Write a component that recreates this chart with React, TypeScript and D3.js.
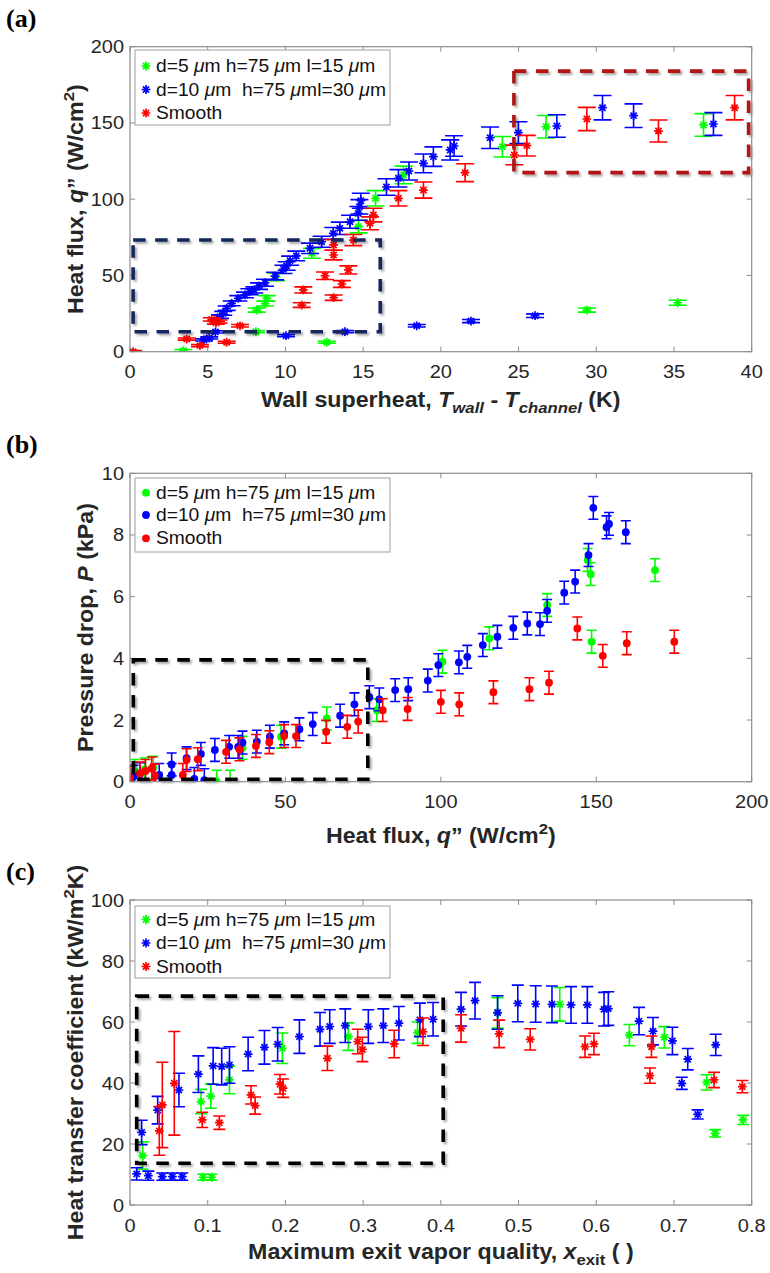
import React from 'react';
import * as d3 from 'd3';

const SANS = '"Liberation Sans", Arial, Helvetica, sans-serif';
const SERIF = '"Liberation Serif", "Times New Roman", serif';
const GREEN = '#00ff00';
const BLUE = '#0000ff';
const RED = '#ff0000';

// ---------- Panel (a): heat flux vs wall superheat ----------
const aXTicks = [0, 5, 10, 15, 20, 25, 30, 35, 40];
const aYTicks = [0, 50, 100, 150, 200];
const aGreenX = [3.43, 8.1, 8.15, 8.7, 8.8, 9.4, 11.7, 12.66, 14.7, 15.8, 17.6, 23.96, 26.77, 29.4, 35.24, 36.9];
const aGreenY = [0.7, 13.1, 27.3, 31.5, 35, 49, 64.5, 6.2, 82, 100.6, 115.9, 134.4, 147.5, 27.3, 32.1, 148.7];
const aBlueX = [4.76, 5.1, 5.5, 5.79, 6.0, 6.22, 6.54, 6.97, 7.4, 7.68, 8.0, 8.3, 8.69, 9.33, 9.87, 10.04, 10.08, 10.3, 10.7, 11.58, 12.33, 13.08, 13.5, 13.83, 14.16, 14.69, 14.76, 14.85, 16.5, 17.27, 17.95, 18.45, 18.88, 19.52, 20.6, 20.85, 21.94, 23.17, 24.99, 26.06, 27.46, 30.4, 32.4, 37.54];
const aBlueY = [7.7, 9, 13, 23, 25.2, 28.5, 31.7, 35, 37.2, 39.3, 40.5, 43, 45.2, 49.6, 54, 10.5, 56.2, 59.7, 62.8, 67.8, 72.1, 77.6, 80.9, 13.1, 85.2, 90.7, 95, 99, 108, 113.7, 118.5, 17, 123.5, 127.9, 132.3, 134.9, 20.1, 140.3, 143.6, 23.6, 148, 160, 154.8, 149.3];
const aRedX = [0.2, 3.65, 4.5, 5.26, 5.53, 5.7, 6.22, 7.08, 11.05, 11.15, 12.55, 13.1, 13.1, 13.1, 13.63, 14.05, 14.37, 15.44, 15.66, 17.27, 18.88, 21.56, 24.73, 25.53, 29.39, 34, 38.9];
const aRedY = [0, 8.3, 4, 21.2, 19, 19.8, 6.2, 17, 30.6, 40.5, 49.8, 35.4, 63.4, 70, 44.4, 53.6, 73.2, 84.2, 89.6, 100.6, 106, 117.4, 129, 135.1, 152.6, 144.7, 160];
const aRelUncertainty = 0.05; // relative uncertainty of q"
const aMinUncertainty = 0.7;

// ---------- Panel (b): pressure drop vs heat flux ----------
const bXTicks = [0, 50, 100, 150, 200];
const bYTicks = [0, 2, 4, 6, 8, 10];
const bGreenX = [1.5, 4.7, 7.5, 27.9, 32.2, 36.2, 48.6, 63.3, 79.4, 100.5, 115.6, 134.2, 147.2, 148.2, 148.5, 168.9];
const bGreenY = [0.35, 0.4, 0.45, 0.0, 0.0, 1.1, 1.46, 2.05, 2.32, 3.89, 4.65, 5.73, 7.19, 6.73, 4.54, 6.86];
const bBlueX = [1.1, 3.2, 9.4, 13.4, 13.4, 18.2, 20.7, 22.8, 23.9, 27.3, 31.9, 34.8, 36.2, 40.8, 45, 49.6, 54.5, 58.8, 67.6, 72.2, 77, 80.2, 85.3, 89.5, 95.8, 99.2, 105.8, 108.5, 113.5, 118.2, 123.3, 127.8, 131.9, 134.2, 139.7, 143.2, 147.5, 149.05, 153.3, 154.1, 159.5];
const bBlueY = [0.16, 0.25, 0.22, 0.22, 0.56, 0.76, 0.09, 0.9, 0.05, 1.03, 1.13, 1.13, 1.27, 1.3, 1.46, 1.57, 1.7, 1.87, 2.14, 2.51, 2.74, 2.67, 2.97, 3.0, 3.28, 3.78, 3.87, 4.05, 4.43, 4.7, 4.99, 5.13, 5.11, 5.54, 6.13, 6.49, 7.35, 8.88, 8.25, 8.36, 8.09];
const bRedX = [0, 3.2, 5, 7, 8, 17, 18.2, 21.8, 30.9, 35.2, 40.5, 44.8, 49.6, 53.4, 63.1, 69.9, 73.4, 81.3, 89.3, 100, 105.9, 116.9, 128.5, 134.8, 143.9, 152.1, 159.8, 175.1];
const bRedY = [0.13, 0.27, 0.35, 0.43, 0.2, 0.22, 0.7, 0.73, 0.97, 1.05, 1.16, 1.28, 1.48, 1.48, 1.62, 1.78, 1.95, 2.32, 2.36, 2.59, 2.51, 2.9, 3.0, 3.21, 4.97, 4.08, 4.49, 4.54];
const bUncertainty = 0.37; // kPa

// ---------- Panel (c): HTC vs exit quality ----------
const cXTicks = [0, 0.1, 0.2, 0.3, 0.4, 0.5, 0.6, 0.7, 0.8];
const cYTicks = [0, 20, 40, 60, 80, 100];
const cGreenX = [0.0163, 0.0914, 0.094, 0.104, 0.105, 0.128, 0.196, 0.281, 0.37, 0.473, 0.553, 0.6426, 0.6876, 0.742, 0.753, 0.789];
const cGreenY = [16.2, 33.9, 9.1, 35.7, 9.1, 41, 51.4, 55.2, 56.5, 63, 65.8, 55.7, 55, 40.2, 23.5, 27.9];
const cGreenE = [4.5, 4, 1, 4, 1, 4.5, 5, 4.5, 3.5, 5, 5.5, 3.5, 3.5, 2.5, 1.2, 1.5];
const cBlueX = [0.0086, 0.015, 0.0236, 0.0356, 0.0416, 0.0545, 0.063, 0.0673, 0.088, 0.107, 0.118, 0.128, 0.152, 0.173, 0.19, 0.218, 0.2445, 0.257, 0.277, 0.3067, 0.326, 0.346, 0.373, 0.39, 0.426, 0.444, 0.473, 0.499, 0.522, 0.543, 0.5675, 0.5885, 0.61, 0.6155, 0.655, 0.673, 0.698, 0.71, 0.7177, 0.7305, 0.7537];
const cBlueY = [10.2, 23.8, 9.6, 31.1, 9.3, 9.3, 37.7, 9.3, 42.9, 45.6, 45.4, 45.9, 49.5, 51.7, 52.7, 55.2, 57.6, 58.5, 58.8, 58.5, 58.8, 59.6, 60.7, 60.9, 64.2, 67, 63.1, 66.1, 65.9, 65.8, 65.6, 65.6, 64.2, 64.4, 60.3, 57, 53.8, 39.9, 47.8, 29.7, 52.5];
const cBlueE = [2, 4, 1.5, 4.5, 1.2, 1.2, 5.5, 1.2, 6, 6, 6, 6, 5.5, 5.5, 5.5, 5.5, 5.5, 5.5, 5.5, 5.5, 5.5, 5.5, 5.5, 5.5, 5.5, 6, 5.5, 6, 6, 6, 6, 6, 5.5, 5.5, 4.5, 4.5, 4.5, 2, 3.5, 1.5, 3.5];
const cRedX = [0.0377, 0.0416, 0.057, 0.093, 0.115, 0.1557, 0.161, 0.193, 0.197, 0.254, 0.293, 0.299, 0.34, 0.377, 0.426, 0.475, 0.515, 0.5855, 0.597, 0.669, 0.671, 0.7515, 0.788];
const cRedY = [24.3, 32.8, 39.9, 27.9, 27, 36.1, 32.6, 39.6, 38.3, 48.1, 53.6, 51, 52.8, 56.8, 57.9, 56.1, 54.3, 51.9, 52.8, 42.4, 51.9, 41, 38.8];
const cRedE = [8, 14, 17, 2.5, 2.2, 3, 2.8, 3.2, 3, 4, 4, 4, 4.5, 4.5, 4.5, 4.5, 3.5, 3.5, 3.5, 2.5, 3.5, 2.5, 2];

const legendLabels = [
  [{ t: 'd=5 ' }, { t: 'μ', i: true }, { t: 'm h=75 ' }, { t: 'μ', i: true }, { t: 'm l=15 ' }, { t: 'μ', i: true }, { t: 'm' }],
  [{ t: 'd=10 ' }, { t: 'μ', i: true }, { t: 'm  h=75 ' }, { t: 'μ', i: true }, { t: 'ml=30 ' }, { t: 'μ', i: true }, { t: 'm' }],
  [{ t: 'Smooth' }],
];
const legendColors = [GREEN, BLUE, RED];

type Seg = { t: string; i?: boolean; sub?: boolean; sup?: boolean };

const LEFT = 130;
const RIGHT = 751.7;
const TICK = 5;
const AXIS_COLOR = '#8c8c8c';
const TEXT_COLOR = '#262626';
const TICK_FS = 18.5;
const TITLE_FS = 21.5;
const LEGEND_FS = 17.5;
const STRETCH = 1.08;

function Rich({ segs, fs }: { segs: Seg[]; fs: number }) {
  let shift = 0;
  return (
    <>
      {segs.map((s, k) => {
        const target = s.sub ? fs * 0.3 : s.sup ? -fs * 0.42 : 0;
        const dy = target - shift;
        shift = target;
        return (
          <tspan key={k} dy={dy} fontStyle={s.i ? 'italic' : 'normal'} fontSize={s.sub || s.sup ? fs * 0.72 : fs}>
            {s.t}
          </tspan>
        );
      })}
    </>
  );
}

function Star({ x, y, color }: { x: number; y: number; color: string }) {
  const s = 4.4;
  const d = 3.1;
  return (
    <path
      d={`M${x - s},${y}H${x + s}M${x},${y - s}V${y + s}M${x - d},${y - d}L${x + d},${y + d}M${x - d},${y + d}L${x + d},${y - d}`}
      stroke={color}
      strokeWidth={1.7}
      fill="none"
    />
  );
}

function Marker({ kind, x, y, color }: { kind: string; x: number; y: number; color: string }) {
  if (kind === 'dot') return <circle cx={x} cy={y} r={3.9} fill={color} />;
  return <Star x={x} y={y} color={color} />;
}

type Series = { xs: number[]; ys: number[]; errs: number[]; color: string };
type Box = { x0: number; x1: number; y0: number; y1: number; color: string };
type PanelCfg = {
  id: string;
  label: string;
  labelY: number;
  top: number;
  bottom: number;
  xDom: [number, number];
  yDom: [number, number];
  xTicks: number[];
  yTicks: number[];
  marker: string;
  cap: number;
  series: Series[];
  boxes: Box[];
  legendTop: number;
  legendH: number;
  legendRows: number[];
  xTitle: Seg[];
  xTitleY: number;
  yTitle: Seg[];
  yTitleX: number;
};

function Panel({ p }: { p: PanelCfg }) {
  const x = d3.scaleLinear().domain(p.xDom).range([LEFT, RIGHT]);
  const y = d3.scaleLinear().domain(p.yDom).range([p.bottom, p.top]);
  const clipId = `clip-${p.id}`;
  const midY = (p.top + p.bottom) / 2;
  const midX = (LEFT + RIGHT) / 2;
  return (
    <g>
      <defs>
        <clipPath id={clipId}>
          <rect x={LEFT} y={p.top} width={RIGHT - LEFT} height={p.bottom - p.top} />
        </clipPath>
      </defs>
      {/* ticks and tick labels */}
      <g stroke={AXIS_COLOR} strokeWidth={1}>
        {p.xTicks.map((t) => (
          <g key={`xt${t}`}>
            <line x1={x(t)} x2={x(t)} y1={p.bottom} y2={p.bottom - TICK} />
            <line x1={x(t)} x2={x(t)} y1={p.top} y2={p.top + TICK} />
          </g>
        ))}
        {p.yTicks.map((t) => (
          <g key={`yt${t}`}>
            <line x1={LEFT} x2={LEFT + TICK} y1={y(t)} y2={y(t)} />
            <line x1={RIGHT} x2={RIGHT - TICK} y1={y(t)} y2={y(t)} />
          </g>
        ))}
      </g>
      <g fontFamily={SANS} fontSize={TICK_FS} fill={TEXT_COLOR}>
        {p.xTicks.map((t) => (
          <text
            key={`xl${t}`}
            transform={`translate(${x(t)},${p.bottom + 26.5}) scale(${STRETCH},1)`}
            textAnchor="middle"
          >
            {String(t)}
          </text>
        ))}
        {p.yTicks.map((t) => (
          <text key={`yl${t}`} transform={`translate(124,${y(t) + 6.5}) scale(${STRETCH},1)`} textAnchor="end">
            {String(t)}
          </text>
        ))}
      </g>
      {/* data */}
      <g clipPath={`url(#${clipId})`}>
        {p.series.map((s, si) => (
          <g key={`s${si}`}>
            {s.xs.map((xv, i) => {
              const cx = x(xv);
              const cy = y(s.ys[i]);
              const y1 = y(s.ys[i] + s.errs[i]);
              const y2 = y(s.ys[i] - s.errs[i]);
              const h = p.cap / 2;
              return (
                <g key={i}>
                  <path
                    d={`M${cx},${y1}V${y2}M${cx - h},${y1}H${cx + h}M${cx - h},${y2}H${cx + h}`}
                    stroke={s.color}
                    strokeWidth={1.6}
                    fill="none"
                  />
                  <Marker kind={p.marker} x={cx} y={cy} color={s.color} />
                </g>
              );
            })}
          </g>
        ))}
      </g>
      {/* dashed highlight boxes */}
      {p.boxes.map((b, bi) => (
        <rect
          key={`b${bi}`}
          x={x(b.x0)}
          y={y(b.y1)}
          width={x(b.x1) - x(b.x0)}
          height={y(b.y0) - y(b.y1)}
          fill="none"
          stroke={b.color}
          strokeWidth={3.6}
          strokeDasharray="12.5 9.5"
          filter="url(#shadow)"
        />
      ))}
      {/* legend */}
      <rect x={135} y={p.legendTop} width={255} height={p.legendH} fill="#fff" stroke="#a0a0a0" strokeWidth={1} />
      {legendLabels.map((segs, k) => (
        <g key={`lg${k}`}>
          <Marker kind={p.marker} x={146} y={p.legendTop + p.legendRows[k]} color={legendColors[k]} />
          <text
            transform={`translate(156,${p.legendTop + p.legendRows[k] + 6}) scale(1.1,1)`}
            fontFamily={SANS}
            fontSize={LEGEND_FS}
            fill="#111"
            style={{ whiteSpace: 'pre' }}
          >
            <Rich segs={segs as Seg[]} fs={LEGEND_FS} />
          </text>
        </g>
      ))}
      {/* axes box */}
      <rect x={LEFT} y={p.top} width={RIGHT - LEFT} height={p.bottom - p.top} fill="none" stroke={AXIS_COLOR} strokeWidth={1.2} />
      {/* titles */}
      <text
        transform={`translate(${midX},${p.xTitleY}) scale(${STRETCH},1)`}
        textAnchor="middle"
        fontFamily={SANS}
        fontWeight="bold"
        fontSize={TITLE_FS}
        fill={TEXT_COLOR}
        style={{ whiteSpace: 'pre' }}
      >
        <Rich segs={p.xTitle} fs={TITLE_FS} />
      </text>
      <text
        transform={`translate(${p.yTitleX},${midY}) rotate(-90) scale(${STRETCH},1)`}
        textAnchor="middle"
        fontFamily={SANS}
        fontWeight="bold"
        fontSize={TITLE_FS}
        fill={TEXT_COLOR}
        style={{ whiteSpace: 'pre' }}
      >
        <Rich segs={p.yTitle} fs={TITLE_FS} />
      </text>
      <text x={6} y={p.labelY} fontFamily={SERIF} fontWeight="bold" fontSize={26} fill="#000">
        {p.label}
      </text>
    </g>
  );
}

const panels: PanelCfg[] = [
  {
    id: 'a',
    label: '(a)',
    labelY: 27,
    top: 46.7,
    bottom: 351.7,
    xDom: [0, 40],
    yDom: [0, 200],
    xTicks: aXTicks,
    yTicks: aYTicks,
    marker: 'star',
    cap: 18,
    series: [
      { xs: aGreenX, ys: aGreenY, errs: aGreenY.map((v) => Math.max(v * aRelUncertainty, aMinUncertainty)), color: GREEN },
      { xs: aBlueX, ys: aBlueY, errs: aBlueY.map((v) => Math.max(v * aRelUncertainty, aMinUncertainty)), color: BLUE },
      { xs: aRedX, ys: aRedY, errs: aRedY.map((v) => Math.max(v * aRelUncertainty, aMinUncertainty)), color: RED },
    ],
    boxes: [
      { x0: 24.7, x1: 39.8, y0: 117.4, y1: 184, color: '#b01414' },
      { x0: 0.2, x1: 16.1, y0: 13.1, y1: 73.2, color: '#14275e' },
    ],
    legendTop: 50,
    legendH: 75,
    legendRows: [16, 39.5, 63],
    xTitle: [
      { t: 'Wall superheat, ' },
      { t: 'T', i: true },
      { t: 'wall', i: true, sub: true },
      { t: ' - ' },
      { t: 'T', i: true },
      { t: 'channel', i: true, sub: true },
      { t: ' (K)' },
    ],
    xTitleY: 406.5,
    yTitle: [{ t: 'Heat flux, ' }, { t: 'q', i: true }, { t: '” (W/cm' }, { t: '2', sup: true }, { t: ')' }],
    yTitleX: 83,
  },
  {
    id: 'b',
    label: '(b)',
    labelY: 453,
    top: 473.3,
    bottom: 781.7,
    xDom: [0, 200],
    yDom: [0, 10],
    xTicks: bXTicks,
    yTicks: bYTicks,
    marker: 'dot',
    cap: 10,
    series: [
      { xs: bGreenX, ys: bGreenY, errs: bGreenY.map(() => bUncertainty), color: GREEN },
      { xs: bBlueX, ys: bBlueY, errs: bBlueY.map(() => bUncertainty), color: BLUE },
      { xs: bRedX, ys: bRedY, errs: bRedY.map(() => bUncertainty), color: RED },
    ],
    boxes: [{ x0: 1.06, x1: 76.5, y0: 0.08, y1: 3.95, color: '#000' }],
    legendTop: 478,
    legendH: 74,
    legendRows: [14.7, 37, 60.3],
    xTitle: [{ t: 'Heat flux, ' }, { t: 'q', i: true }, { t: '” (W/cm' }, { t: '2', sup: true }, { t: ')' }],
    xTitleY: 843,
    yTitle: [{ t: 'Pressure drop, ' }, { t: 'P', i: true }, { t: ' (kPa)' }],
    yTitleX: 93,
  },
  {
    id: 'c',
    label: '(c)',
    labelY: 880,
    top: 900,
    bottom: 1205,
    xDom: [0, 0.8],
    yDom: [0, 100],
    xTicks: cXTicks,
    yTicks: cYTicks,
    marker: 'star',
    cap: 12,
    series: [
      { xs: cGreenX, ys: cGreenY, errs: cGreenE, color: GREEN },
      { xs: cBlueX, ys: cBlueY, errs: cBlueE, color: BLUE },
      { xs: cRedX, ys: cRedY, errs: cRedE, color: RED },
    ],
    boxes: [{ x0: 0.0086, x1: 0.403, y0: 13.7, y1: 68.5, color: '#000' }],
    legendTop: 906,
    legendH: 72,
    legendRows: [13.5, 37, 60.5],
    xTitle: [{ t: 'Maximum exit vapor quality, ' }, { t: 'x', i: true }, { t: 'exit', sub: true }, { t: ' ( )' }],
    xTitleY: 1259,
    yTitle: [{ t: 'Heat transfer coefficient (kW/m' }, { t: '2', sup: true }, { t: 'K)' }],
    yTitleX: 83,
  },
];

export default function App() {
  return (
    <svg
      width={770}
      height={1273}
      viewBox="0 0 770 1273"
      style={{ position: 'absolute', left: 0, top: 0, display: 'block', background: '#fff' }}
    >
      <defs>
        <filter id="shadow" x="-10%" y="-10%" width="120%" height="120%">
          <feDropShadow dx="2" dy="2" stdDeviation="1.3" floodColor="#000" floodOpacity="0.35" />
        </filter>
      </defs>
      <rect x={0} y={0} width={770} height={1273} fill="#fff" />
      {panels.map((p) => (
        <Panel key={p.id} p={p} />
      ))}
    </svg>
  );
}
